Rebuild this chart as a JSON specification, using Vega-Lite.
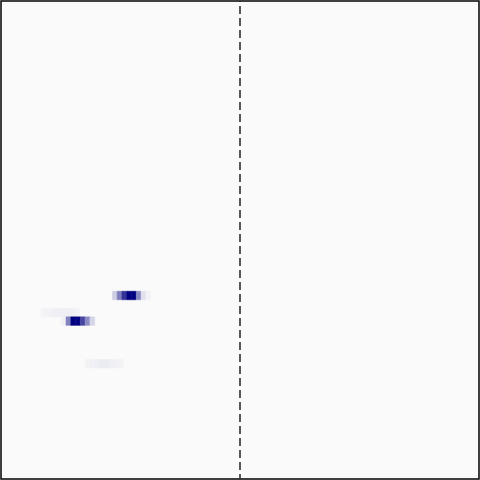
{
  "$schema": "https://vega.github.io/schema/vega-lite/v6.json",
  "width": 478,
  "height": 478,
  "autosize": {"type": "none"},
  "padding": {"left": 1, "top": 1, "right": 1, "bottom": 1},
  "background": "#ffffff",
  "config": {"view": {"stroke": "#000000", "strokeWidth": 1.5, "fill": "#fafafa"}},
  "layer": [
    {
      "data": {"values": [
        {"x": -26.7, "x2": -25.7, "y": 21, "y2": 22, "v": 0.18},
        {"x": -25.7, "x2": -24.7, "y": 21, "y2": 22, "v": 0.5},
        {"x": -24.7, "x2": -23.7, "y": 21, "y2": 22, "v": 0.8},
        {"x": -23.7, "x2": -22.7, "y": 21, "y2": 22, "v": 1.0},
        {"x": -22.7, "x2": -21.7, "y": 21, "y2": 22, "v": 1.0},
        {"x": -21.7, "x2": -20.7, "y": 21, "y2": 22, "v": 0.45},
        {"x": -20.7, "x2": -19.7, "y": 21, "y2": 22, "v": 0.1},
        {"x": -19.7, "x2": -18.7, "y": 21, "y2": 22, "v": 0.03},
        {"x": -41.6, "x2": -40.6, "y": 19, "y2": 20, "v": 0.03},
        {"x": -40.6, "x2": -39.6, "y": 19, "y2": 20, "v": 0.03},
        {"x": -39.6, "x2": -38.6, "y": 19, "y2": 20, "v": 0.04},
        {"x": -38.6, "x2": -37.6, "y": 19, "y2": 20, "v": 0.05},
        {"x": -37.6, "x2": -36.6, "y": 19, "y2": 20, "v": 0.05},
        {"x": -36.6, "x2": -35.6, "y": 19, "y2": 20, "v": 0.05},
        {"x": -35.6, "x2": -34.6, "y": 19, "y2": 20, "v": 0.04},
        {"x": -34.6, "x2": -33.6, "y": 19, "y2": 20, "v": 0.03},
        {"x": -37.4, "x2": -36.4, "y": 18, "y2": 19, "v": 0.04},
        {"x": -36.4, "x2": -35.4, "y": 18, "y2": 19, "v": 0.48},
        {"x": -35.4, "x2": -34.4, "y": 18, "y2": 19, "v": 1.0},
        {"x": -34.4, "x2": -33.4, "y": 18, "y2": 19, "v": 0.98},
        {"x": -33.4, "x2": -32.4, "y": 18, "y2": 19, "v": 0.72},
        {"x": -32.4, "x2": -31.4, "y": 18, "y2": 19, "v": 0.44},
        {"x": -31.4, "x2": -30.4, "y": 18, "y2": 19, "v": 0.15},
        {"x": -32.4, "x2": -31.4, "y": 13, "y2": 14, "v": 0.03},
        {"x": -31.4, "x2": -30.4, "y": 13, "y2": 14, "v": 0.04},
        {"x": -30.4, "x2": -29.4, "y": 13, "y2": 14, "v": 0.05},
        {"x": -29.4, "x2": -28.4, "y": 13, "y2": 14, "v": 0.06},
        {"x": -28.4, "x2": -27.4, "y": 13, "y2": 14, "v": 0.06},
        {"x": -27.4, "x2": -26.4, "y": 13, "y2": 14, "v": 0.05},
        {"x": -26.4, "x2": -25.4, "y": 13, "y2": 14, "v": 0.04},
        {"x": -25.4, "x2": -24.4, "y": 13, "y2": 14, "v": 0.03}
      ]},
      "mark": {"type": "rect", "strokeWidth": 0.5},
      "encoding": {
        "x": {"field": "x", "type": "quantitative", "scale": {"domain": [-50, 50], "nice": false, "zero": false}, "axis": null},
        "x2": {"field": "x2"},
        "y": {"field": "y", "type": "quantitative", "scale": {"domain": [0, 56], "nice": false, "zero": false}, "axis": null},
        "y2": {"field": "y2"},
        "color": {"field": "v", "type": "quantitative", "scale": {"domain": [0, 1], "range": ["#fafafa", "#000080"], "interpolate": "rgb"}, "legend": null},
        "stroke": {"field": "v", "type": "quantitative", "scale": {"domain": [0, 1], "range": ["#fafafa", "#000080"], "interpolate": "rgb"}, "legend": null}
      }
    },
    {
      "data": {"values": [{"x0": 0}]},
      "mark": {"type": "rule", "color": "#222222", "strokeWidth": 1.5, "strokeDash": [8, 4], "strokeDashOffset": -5},
      "encoding": {
        "x": {"field": "x0", "type": "quantitative", "scale": {"domain": [-50, 50], "nice": false, "zero": false}, "axis": null}
      }
    }
  ]
}
